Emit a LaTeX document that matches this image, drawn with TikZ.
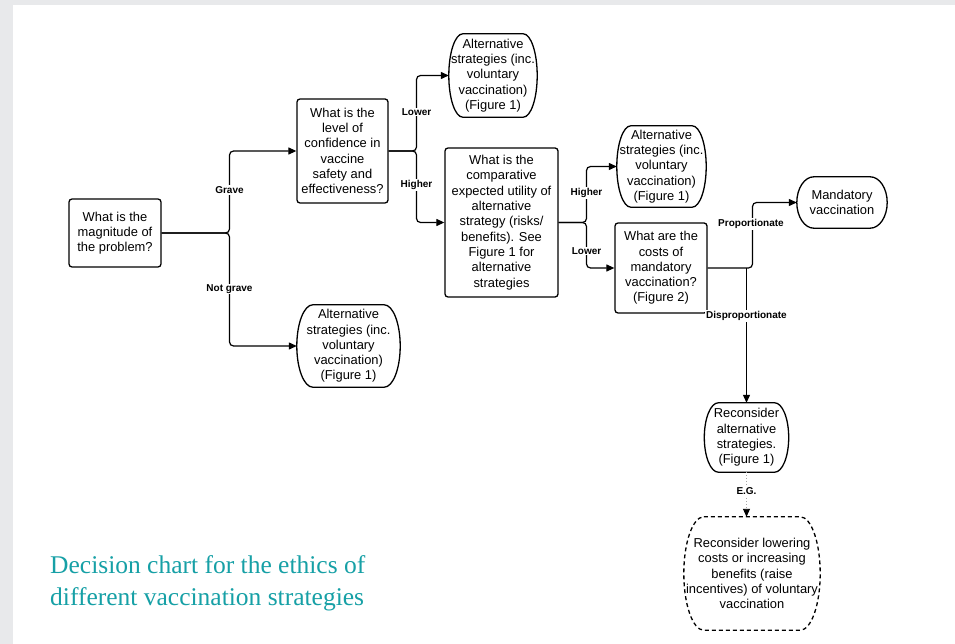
\documentclass[tikz,border=0pt]{standalone}
\usepackage{fontspec}
\setmainfont{Liberation Sans}
\newfontfamily\capfont{Liberation Serif}
\usetikzlibrary{arrows.meta,calc}
\definecolor{bggray}{RGB}{232,233,235}
\definecolor{capteal}{RGB}{22,160,166}
\newcommand\termpath[3]{%
\draw[line width=1.3pt,#3] ($(#1.north west)+(#2,0)$) -- ($(#1.north east)+(-#2,0)$)
 .. controls ($(#1.north east)+(-0.45*#2,0)$) and ($(#1.east)!0.55!(#1.north east)$) .. (#1.east)
 .. controls ($(#1.east)!0.55!(#1.south east)$) and ($(#1.south east)+(-0.45*#2,0)$) .. ($(#1.south east)+(-#2,0)$)
 -- ($(#1.south west)+(#2,0)$)
 .. controls ($(#1.south west)+(0.45*#2,0)$) and ($(#1.west)!0.55!(#1.south west)$) .. (#1.west)
 .. controls ($(#1.west)!0.55!(#1.north west)$) and ($(#1.north west)+(0.45*#2,0)$) .. cycle;}
\begin{document}
\begin{tikzpicture}[x=1pt,y=-1pt,
  txt/.style={align=center, inner sep=0pt, font=\fontsize{12.9}{15.3}\selectfont},
  box/.style={txt, draw, line width=1.3pt, rounded corners=3pt},
  term/.style={txt},
  conn/.style={line width=1.2pt, rounded corners=4pt},
  arr/.style={-{Triangle[length=8pt,width=7pt,black]}},
  lbl/.style={fill=white, inner sep=1pt, font=\bfseries\fontsize{10}{11}\selectfont}]
\useasboundingbox (0,0) rectangle (955,644);
\fill[bggray] (0,0) rectangle (955,644);
\fill[white] (13,5) rectangle (955,644);

% nodes
\node[box, minimum width=92pt, minimum height=68pt] (mag) at (115,233) {What is the\\magnitude of\\the problem?};
\node[box, minimum width=91pt, minimum height=104pt] (conf) at (342.5,151) {What is the\\level of\\confidence in\\vaccine\\safety and\\effectiveness?};
\node[term, minimum width=103pt, minimum height=82pt] (altB) at (348.5,346) {Alternative\\strategies (inc.\\voluntary\\vaccination)\\(Figure 1)};
\node[term, minimum width=88pt, minimum height=83pt] (altT) at (493,75.5) {Alternative\\strategies (inc.\\voluntary\\vaccination)\\(Figure 1)};
\node[box, minimum width=113pt, minimum height=149pt] (comp) at (501.5,222.5) {What is the\\comparative\\expected utility of\\alternative\\strategy (risks/\\benefits). See\\Figure 1 for\\alternative\\strategies};
\node[term, minimum width=89pt, minimum height=81pt] (altM) at (661.5,166.5) {Alternative\\strategies (inc.\\voluntary\\vaccination)\\(Figure 1)};
\node[box, minimum width=92pt, minimum height=90pt] (costs) at (661,268) {What are the\\costs of\\mandatory\\vaccination?\\(Figure 2)};
\node[term, minimum width=90pt, minimum height=51pt] (mand) at (842,202.5) {Mandatory\\vaccination};
\node[term, minimum width=84pt, minimum height=69pt] (recon) at (746.5,437.5) {Reconsider\\alternative\\strategies.\\(Figure 1)};
\node[term, minimum width=136pt, minimum height=113pt] (dsh) at (752,573.5) {Reconsider lowering\\costs or increasing\\benefits (raise\\incentives) of voluntary\\vaccination};

\termpath{altB}{16}{}
\termpath{altT}{14}{}
\termpath{altM}{14}{}
\termpath{mand}{17}{}
\termpath{recon}{14}{}
\termpath{dsh}{20}{dash pattern=on 4pt off 3pt}

% junctions
\coordinate (j1) at (229.5,233);
\coordinate (j2) at (416.5,151);
\coordinate (j3) at (586.5,222.5);
\coordinate (j4) at (752.5,268);
\coordinate (jd) at (746.5,268);

% connectors
\draw[conn,arr] (mag.east) -- (j1) |- (conf.west);
\draw[conn,arr] (mag.east) -- (j1) |- (altB.west);
\draw[conn,arr] (conf.east) -- (j2) |- (altT.west);
\draw[conn,arr] (conf.east) -- (j2) |- (comp.west);
\draw[conn,arr] (comp.east) -- (j3) |- (altM.west);
\draw[conn,arr] (comp.east) -- (j3) |- (costs.west);
\draw[conn,arr] (costs.east) -- (j4) |- (mand.west);
\draw[conn,arr] (jd) -- (recon.north);
\draw[line width=0.9pt, dotted, gray!70, arr] (recon.south) -- (recon.south |- dsh.north);

% labels
\node[lbl] (lgrave) at (229.5,190) {Grave};
\node[lbl] (lnot) at (229.5,289) {Not grave};
\node[lbl] (llow1) at (416.5,112) {Lower};
\node[lbl] (lhigh1) at (416.5,185) {Higher};
\node[lbl] (lhigh2) at (586.5,193) {Higher};
\node[lbl] (llow2) at (586.5,251) {Lower};
\node[lbl] (lprop) at (751,224) {Proportionate};
\node[lbl] (ldisp) at (746.5,316) {Disproportionate};
\node[lbl] (leg) at (746.5,491) {E.G.};

% caption
\node[anchor=base west, align=left, inner sep=0pt, text=capteal, font=\capfont\fontsize{25.5}{31.5}\selectfont] (cap) at (50,605) {Decision chart for the ethics of\\different vaccination strategies};
\end{tikzpicture}
\end{document}
